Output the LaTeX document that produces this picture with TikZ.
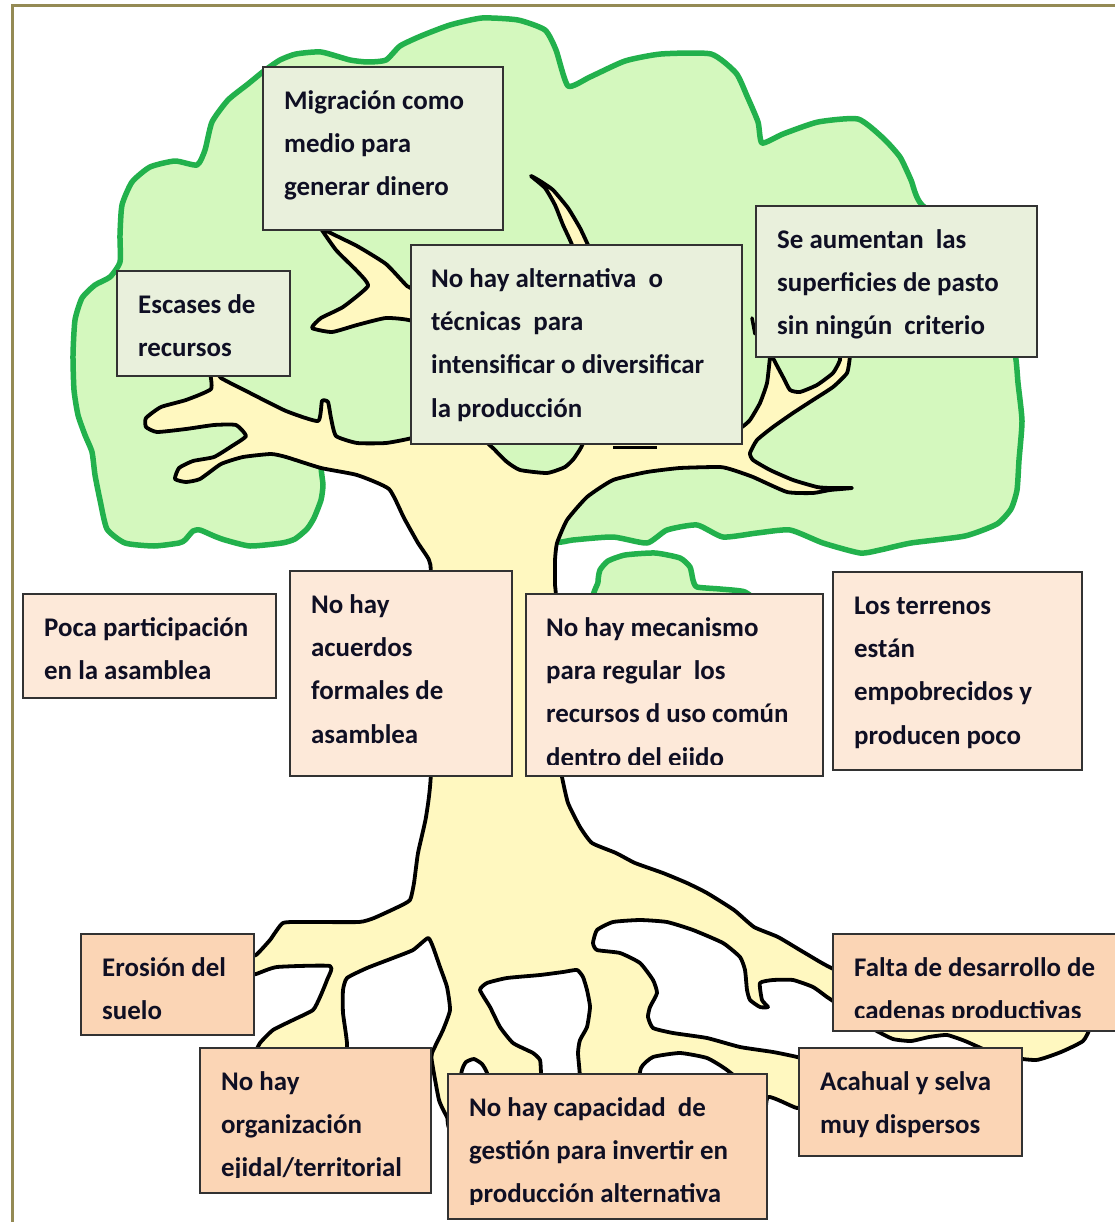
\documentclass[tikz,border=0pt]{standalone}
\usepackage{fontspec}
\setmainfont{Carlito}
\definecolor{leaf}{RGB}{212,248,190}
\definecolor{leafline}{RGB}{34,177,76}
\definecolor{wood}{RGB}{255,248,192}
\definecolor{gboxfill}{RGB}{233,240,220}
\definecolor{pboxfill}{RGB}{253,233,217}
\definecolor{oboxfill}{RGB}{251,213,181}
\definecolor{boxline}{RGB}{50,50,50}
\definecolor{framecol}{RGB}{148,138,84}
\definecolor{ink}{RGB}{15,15,35}
\tikzset{
  basebox/.style={draw=boxline, line width=1.8pt, anchor=north west, inner sep=0pt},
  greenbox/.style={basebox, fill=gboxfill},
  peachbox/.style={basebox, fill=pboxfill},
  orangebox/.style={basebox, fill=oboxfill},
  boxtext/.style={anchor=north west, align=left, inner sep=0pt, text=ink,
    font=\fontsize{26.9}{43.3}\selectfont\bfseries},
  woodline/.style={draw=black, line width=3.8pt, line join=round},
  leafdraw/.style={draw=leafline, fill=leaf, line width=5.5pt, line join=round}
}
\begin{document}
\begin{tikzpicture}[x=1pt,y=-1pt]
\useasboundingbox (0,0) rectangle (1114,1222);
\fill[white] (0,0) rectangle (1114,1222);
% frame
\draw[framecol, line width=3pt] (12.5,1240) -- (12.5,5.5) -- (1130,5.5);
% canopy
\draw[leafdraw] plot[smooth cycle, tension=0.35] coordinates {
(322,462) (323,485) (321,500) (314,518) (307,529) (295,539) (282,543) (250,546)
(225,540) (214,536) (200,530) (193,531) (185,540) (179,543) (154,546) (125,543)
(107,529) (100,500) (95,475) (92,452) (85,435) (78,415) (74,390) (73,355) (75,320)
(82,298) (95,285) (110,277) (120,262) (120,235) (122,205) (132,182) (150,167)
(175,161) (197,165) (205,150) (212,122) (228,100) (248,84) (264,71) (280,60)
(296,54) (321,52) (350,60) (368,62) (386,60) (400,46) (421,36) (450,25) (482,18)
(518,20) (545,30) (556,50) (568,86) (590,77) (625,61) (661,54) (711,54) (736,73)
(747,96) (758,122) (762,143) (783,134) (818,122) (858,119) (883,138) (900,157)
(911,180) (922,205) (980,250) (1010,330) (1016,360) (1018,383) (1022,421)
(1019,460) (1017,490) (1011,509) (997,524) (965,536) (911,543) (880,550)
(860,553) (823,543) (790,530) (757,533) (723,537) (697,525) (667,530) (647,543)
(613,537) (573,540) (557,542) (530,530) (480,515) (430,495) (390,480) (350,466)};
% small leaf blob
\draw[leafdraw] plot[smooth cycle, tension=0.35] coordinates {
(600,605) (598,582) (600,570) (608,561) (625,555) (655,553) (680,558) (690,567)
(693,580) (697,587) (720,589) (745,592) (750,605)};
% trunk, branches and roots
\draw[woodline, fill=wood] plot[smooth cycle, tension=0.3] coordinates {
(318,224) (336,250) (357,271) (368,286) (343,307) (321,318) (312,328) (332,332)
(357,325) (386,318) (412,321) (430,340) (430,430) (412,438) (386,443) (357,443)
(336,436) (331,418) (328,402) (322,401) (318,421) (286,411) (250,393) (221,378)
(217,370) (210,370) (211,389) (186,400) (161,407) (146,418) (146,427) (157,432)
(186,429) (214,425) (236,425) (246,436) (232,446) (214,457) (193,461) (179,468)
(175,479) (186,482) (200,479) (221,464) (243,457) (271,454) (286,457) (321,468)
(357,475) (389,489) (404,518) (418,543) (429,560) (431,580) (431,770) (426,817)
(418,853) (414,883) (410,900) (398,907) (374,918) (359,922) (307,922) (283,923)
(270,940) (256,955) (245,958) (245,975) (256,974) (277,967) (330,966) (327,980)
(320,997) (313,1010) (293,1020) (273,1030) (260,1043) (255,1055) (262,1068)
(340,1068) (347,1045) (343,1013) (343,990) (347,978) (367,968) (393,958) (413,950)
(428,938) (433,947) (440,967) (447,987) (450,1010) (443,1030) (432,1053) (432,1062)
(439,1100) (447,1117) (458,1135) (600,1150) (755,1125) (768,1097) (797,1108)
(808,1100) (808,1062) (797,1057) (773,1052) (740,1047) (707,1038) (673,1033)
(653,1028) (648,1017) (650,1007) (657,993) (653,980) (640,963) (620,953) (597,950)
(593,943) (597,930) (613,922) (640,920) (667,922) (693,930) (723,943) (740,957)
(745,970) (747,990) (750,1000) (760,1007) (768,1007) (762,1000) (760,983) (773,980)
(793,980) (813,987) (827,997) (836,1003) (860,1020) (875,1030) (893,1039) (911,1041)
(929,1037) (947,1035) (965,1041) (983,1049) (1000,1056) (1036,1060) (1061,1052)
(1083,1041) (1090,1026) (1080,1000) (900,985) (836,970) (805,953) (778,937)
(754,927) (734,910) (707,893) (687,883) (663,873) (635,863) (616,853) (592,843)
(580,827) (568,803) (562,777) (560,760) (556,600) (555,585) (555,560) (557,543)
(567,520) (587,497) (613,480) (647,472) (680,468) (720,467) (733,470) (753,477)
(787,492) (813,493) (830,490) (852,488) (830,488) (817,487) (793,480) (770,470)
(753,460) (750,453) (757,440) (773,427) (793,413) (813,400) (833,387) (847,373)
(850,356) (850,348) (840,348) (840,360) (833,373) (817,385) (800,392) (790,390)
(783,377) (773,358) (771,350) (770,357) (767,383) (760,403) (750,420) (742,427)
(733,430) (700,400) (600,275) (590,250) (588,245) (580,228) (568,208) (553,190)
(540,181) (531,176) (545,188) (555,205) (563,225) (572,245) (570,255) (450,295)
(415,289) (407,286) (386,264) (357,246) (325,230) (322,222)};
% pockets
\draw[woodline, fill=leaf] plot[smooth cycle, tension=0.3] coordinates {
(488,438) (495,450) (507,462) (520,470) (547,473) (565,467) (575,457) (581,438)};
\draw[woodline, fill=white] plot[smooth cycle, tension=0.3] coordinates {
(480,990) (487,983) (507,978) (540,975) (563,972) (577,970) (583,977) (587,990)
(590,1007) (587,1027) (580,1040) (578,1053) (579,1090) (542,1090) (541,1073)
(540,1060) (533,1053) (513,1043) (500,1027) (490,1007)};
\draw[woodline, fill=white] plot[smooth cycle, tension=0.3] coordinates {
(460,1090) (462,1070) (466,1062) (474,1059) (482,1064) (487,1073) (488,1090)};
\draw[woodline, fill=white] plot[smooth cycle, tension=0.3] coordinates {
(640,1095) (641,1068) (653,1057) (680,1053) (707,1058) (727,1070) (745,1088) (700,1100)};
\draw[black, line width=3pt] (613,447) -- (657,447);
\draw[black, line width=3.5pt, line cap=round] (752,318) -- (755,334);
% boxes
\node[greenbox, minimum width=240pt, minimum height=163pt] (b1) at (262,66) {};
\node[greenbox, minimum width=173pt, minimum height=105pt] (b2) at (116,270) {};
\node[greenbox, minimum width=331pt, minimum height=199pt] (b3) at (410,244) {};
\node[greenbox, minimum width=281pt, minimum height=151pt] (b4) at (755,205) {};
\node[peachbox, minimum width=253pt, minimum height=104pt] (b5) at (22,593) {};
\node[peachbox, minimum width=222pt, minimum height=205pt] (b6) at (289,570) {};
\node[peachbox, minimum width=297pt, minimum height=182pt] (b7) at (525,593) {};
\node[peachbox, minimum width=249pt, minimum height=198pt] (b8) at (832,571) {};
\node[orangebox, minimum width=173pt, minimum height=101pt] (b9) at (80,933) {};
\node[orangebox, minimum width=293pt, minimum height=97pt] (b10) at (832,933) {};
\node[orangebox, minimum width=231pt, minimum height=145pt] (b11) at (199,1047) {};
\node[orangebox, minimum width=319pt, minimum height=145pt] (b12) at (447,1073) {};
\node[orangebox, minimum width=223pt, minimum height=108pt] (b13) at (798,1047) {};
% texts
\node[boxtext] (t1) at ([xshift=22pt,yshift=-23pt]b1.north west) {\rule{0pt}{20pt}Migración como\\medio para\\generar dinero};
\node[boxtext] (t2) at ([xshift=22pt,yshift=-23pt]b2.north west) {\rule{0pt}{20pt}Escases de\\recursos};
\node[boxtext] (t3) at ([xshift=21pt,yshift=-23pt]b3.north west) {\rule{0pt}{20pt}No hay alternativa\ \ o\\técnicas\ \ para\\intensificar o diversificar\\la producción};
\node[boxtext] (t4) at ([xshift=22pt,yshift=-23pt]b4.north west) {\rule{0pt}{20pt}Se aumentan\ \ las\\superficies de pasto\\sin ningún\ \ criterio};
\node[boxtext] (t5) at ([xshift=22pt,yshift=-23pt]b5.north west) {\rule{0pt}{20pt}Poca participación\\en la asamblea};
\node[boxtext] (t6) at ([xshift=22pt,yshift=-23pt]b6.north west) {\rule{0pt}{20pt}No hay\\acuerdos\\formales de\\asamblea};
\begin{scope}
\clip (b7.north west) rectangle ([yshift=12pt]b7.south east);
\node[boxtext] (t7) at ([xshift=21pt,yshift=-23pt]b7.north west) {\rule{0pt}{20pt}No hay mecanismo\\para regular\ \ los\\recursos d uso común\\dentro del ejido};
\end{scope}
\node[boxtext] (t8) at ([xshift=22pt,yshift=-23pt]b8.north west) {\rule{0pt}{20pt}Los terrenos\\están\\empobrecidos y\\producen poco};
\node[boxtext] (t9) at ([xshift=22pt,yshift=-23pt]b9.north west) {\rule{0pt}{20pt}Erosión del\\suelo};
\begin{scope}
\clip (b10.north west) rectangle ([yshift=14pt]b10.south east);
\node[boxtext] (t10) at ([xshift=22pt,yshift=-23pt]b10.north west) {\rule{0pt}{20pt}Falta de desarrollo de\\cadenas productivas};
\end{scope}
\begin{scope}
\clip (b11.north west) rectangle ([yshift=16pt]b11.south east);
\node[boxtext] (t11) at ([xshift=22pt,yshift=-23pt]b11.north west) {\rule{0pt}{20pt}No hay\\organización\\ejidal/territorial};
\end{scope}
\begin{scope}
\clip (b12.north west) rectangle ([yshift=15pt]b12.south east);
\node[boxtext] (t12) at ([xshift=22pt,yshift=-23pt]b12.north west) {\rule{0pt}{20pt}No hay capacidad\ \ de\\gestión para invertir en\\producción alternativa};
\end{scope}
\node[boxtext] (t13) at ([xshift=22pt,yshift=-23pt]b13.north west) {\rule{0pt}{20pt}Acahual y selva\\muy dispersos};
\end{tikzpicture}
\end{document}
